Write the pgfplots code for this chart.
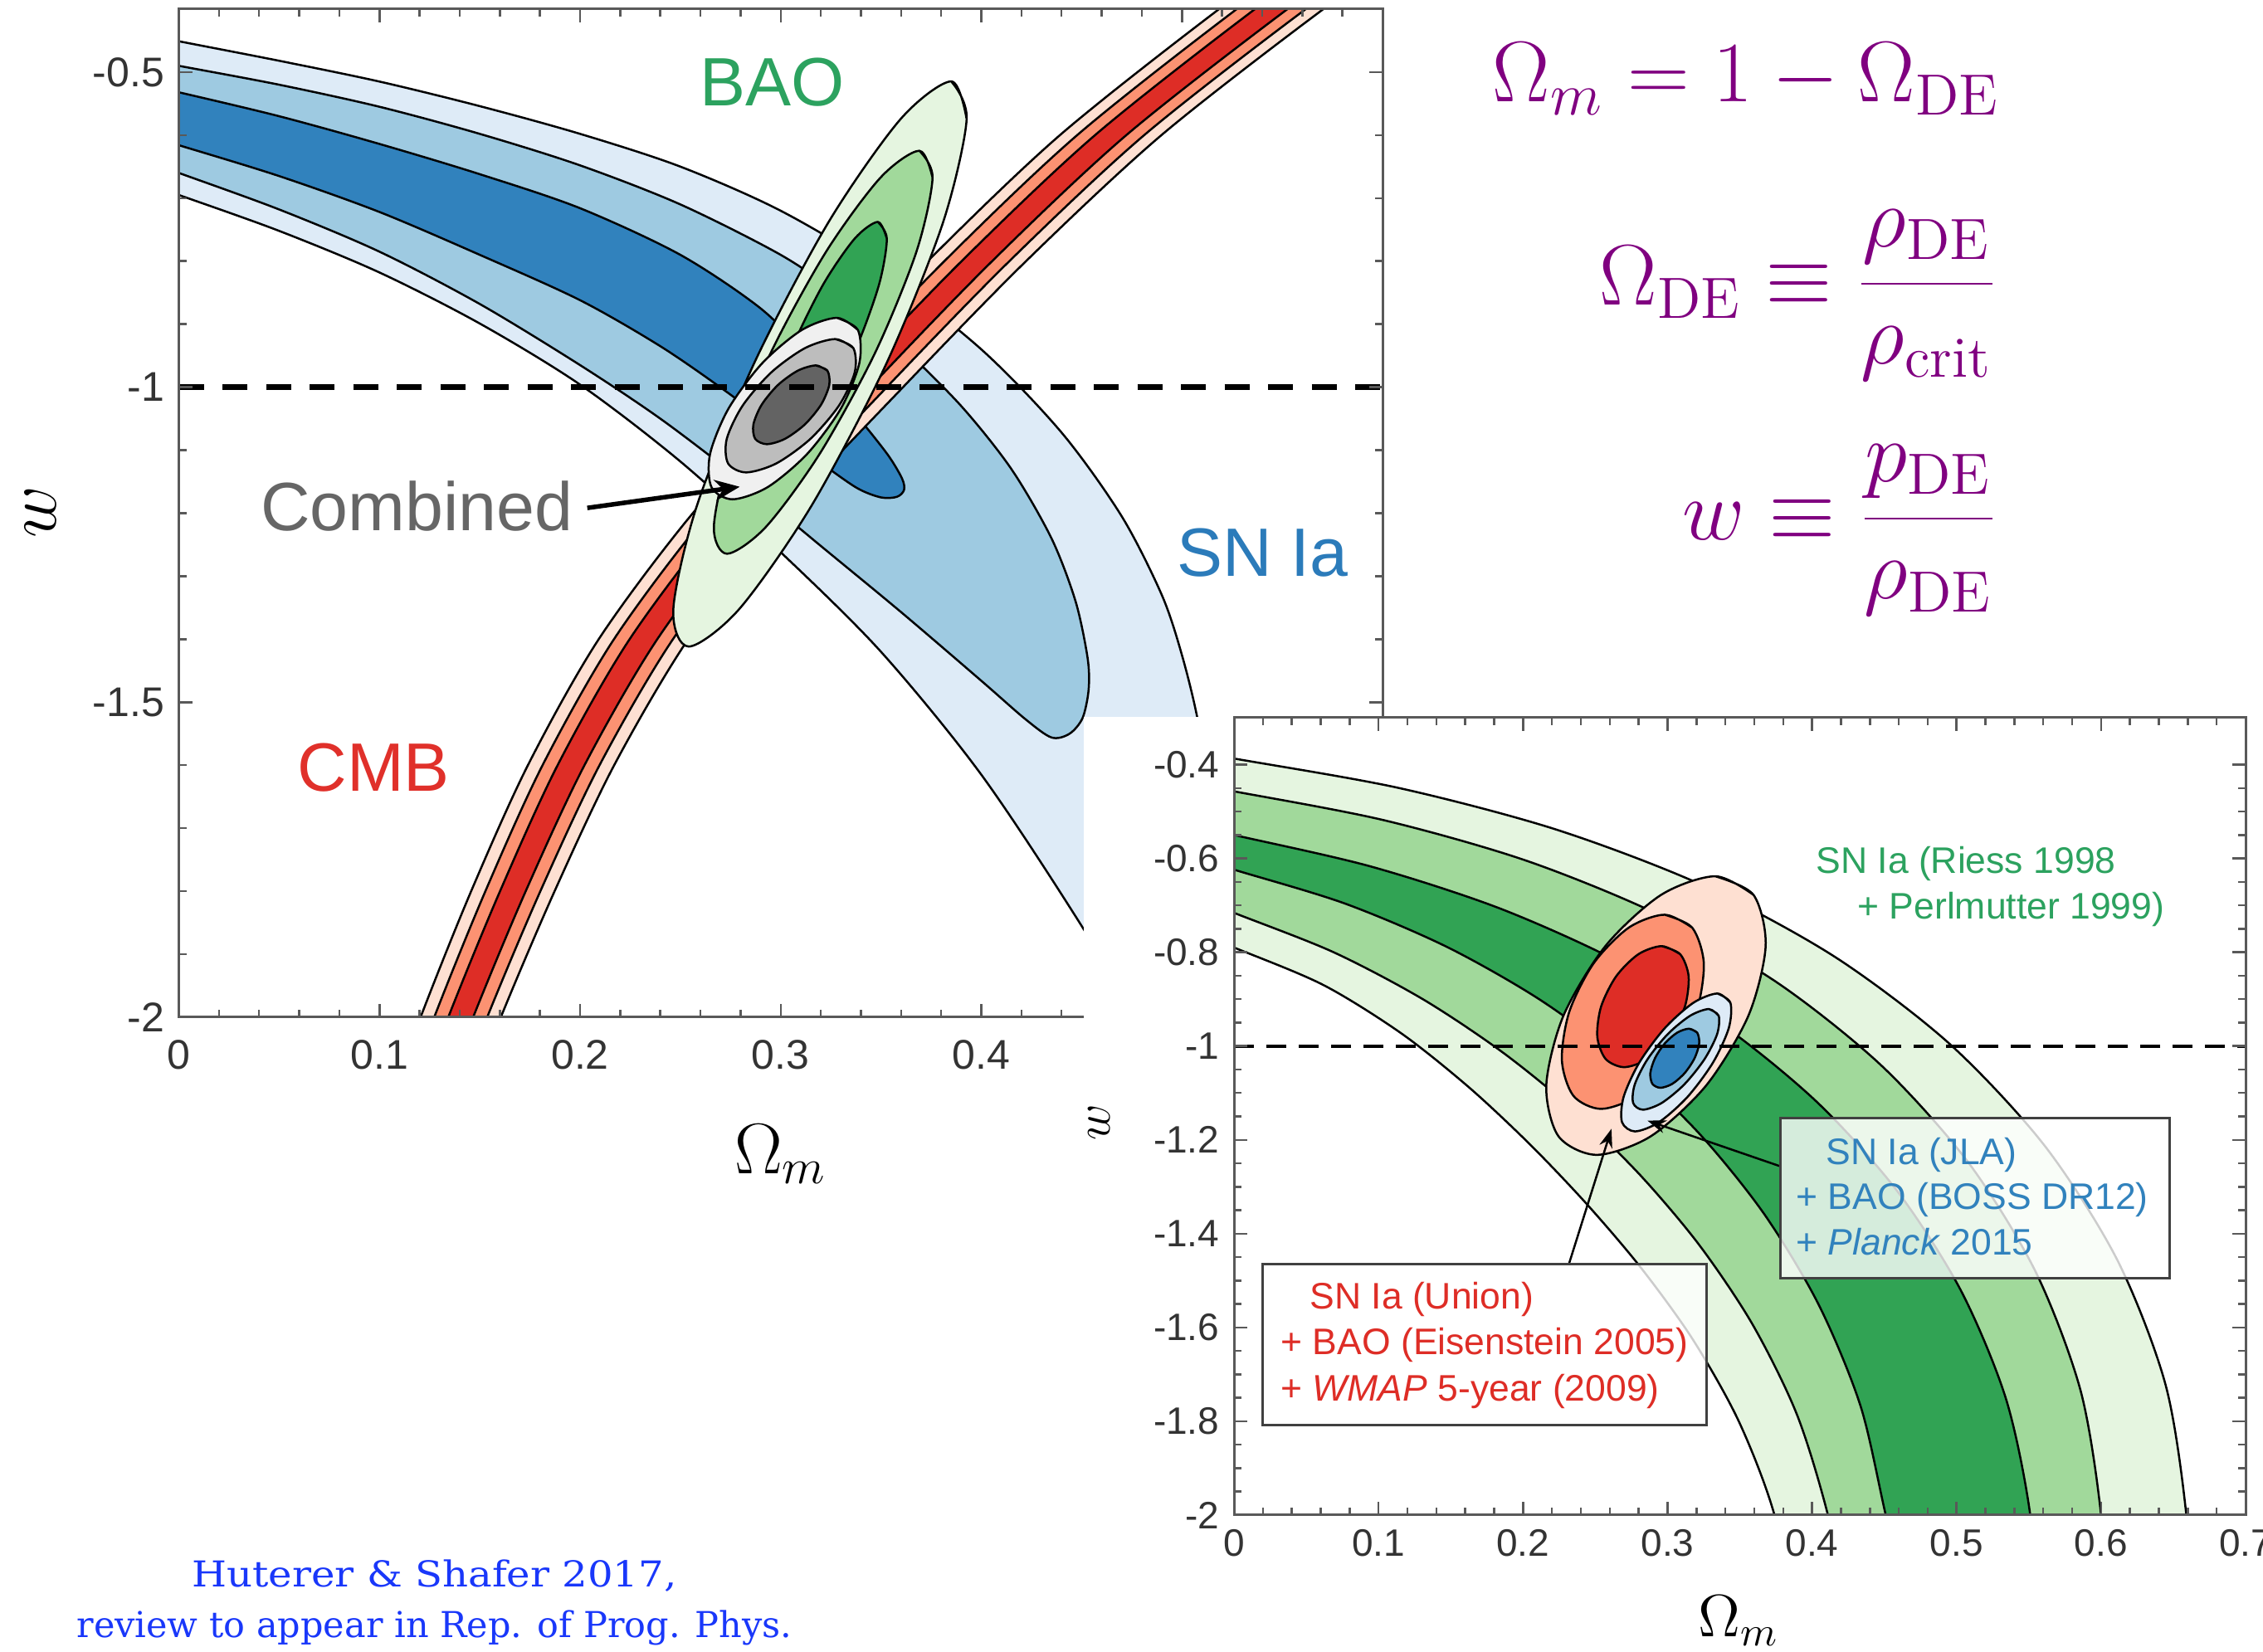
\documentclass[border=0pt]{standalone}
\usepackage{pgfplots}
\pgfplotsset{compat=1.18}
\usepackage{fontspec}
\newfontfamily\plotfont{Liberation Sans}
\newfontfamily\citefont{DejaVu Serif}
\usetikzlibrary{arrows.meta}
\definecolor{blA}{HTML}{DEEBF7}\definecolor{blB}{HTML}{9ECAE1}\definecolor{blC}{HTML}{3182BD}
\definecolor{rdA}{HTML}{FEE0D2}\definecolor{rdB}{HTML}{FC9272}\definecolor{rdC}{HTML}{DE2D26}
\definecolor{grA}{HTML}{E5F5E0}\definecolor{grB}{HTML}{A1D99B}\definecolor{grC}{HTML}{31A354}
\definecolor{gyA}{HTML}{F0F0F0}\definecolor{gyB}{HTML}{BDBDBD}\definecolor{gyC}{HTML}{636363}
\definecolor{eqpurple}{HTML}{800080}
\definecolor{citeblue}{RGB}{25,55,250}
\definecolor{lblgreen}{HTML}{2CA25F}
\definecolor{lblblue}{HTML}{2B7BBA}
\definecolor{lblred}{HTML}{E0302A}
\pgfplotsset{
  cont/.style={draw=black, line width=0.5pt, smooth},
  base/.style={scale only axis, axis on top, clip=true, tick align=inside,
    axis line style={draw=black!65, line width=0.6pt},
    tick style={draw=black!65, line width=0.5pt},
    major tick length=3.2pt, minor tick length=1.8pt,
    tick label style={text=black!80}},
}
\begin{document}
\begin{tikzpicture}
\path[use as bounding box] (0,0) rectangle (545.4pt,398.2pt);
% ================= LEFT AXIS =================
\begin{axis}[base, at={(43.1pt,153pt)}, anchor=south west,
  width=290.1pt, height=243pt,
  xmin=0, xmax=0.6, ymin=-2, ymax=-0.4,
  xtick={0,0.1,0.2,0.3,0.4,0.5,0.6}, xticklabels={0,0.1,0.2,0.3,0.4,{},{}},
  ytick={-2,-1.5,-1,-0.5}, yticklabels={-2,-1.5,-1,-0.5},
  minor x tick num=4, minor y tick num=4,
  tick label style={font=\plotfont\fontsize{10}{12}\selectfont},
  xticklabel style={yshift=-2pt}]
% SN Ia (blue)
\addplot[cont, fill=blA] coordinates {(-0.02,-0.438) (0,-0.451) (0.05,-0.482) (0.1,-0.515) (0.15,-0.554) (0.2,-0.598) (0.25,-0.650) (0.3,-0.72) (0.35,-0.815) (0.4,-0.94) (0.44,-1.072) (0.47,-1.205) (0.49,-1.33) (0.5,-1.425) (0.508,-1.53) (0.514,-1.66) (0.518,-1.8) (0.521,-2.0) (0.522,-2.15) (0.51,-2.17) (0.5,-2.12) (0.45,-1.855) (0.4,-1.615) (0.35,-1.42) (0.3,-1.262) (0.25,-1.118) (0.2,-0.996) (0.15,-0.899) (0.1,-0.818) (0.05,-0.752) (0,-0.695) (-0.02,-0.673)};
\addplot[cont, fill=blB] coordinates {(-0.02,-0.478) (0,-0.49) (0.05,-0.52) (0.1,-0.555) (0.15,-0.598) (0.2,-0.648) (0.25,-0.71) (0.3,-0.79) (0.33,-0.855) (0.36,-0.935) (0.39,-1.03) (0.415,-1.13) (0.435,-1.24) (0.447,-1.34) (0.453,-1.43) (0.4535,-1.48) (0.4505,-1.525) (0.444,-1.55) (0.435,-1.556) (0.422,-1.527) (0.4,-1.466) (0.36,-1.357) (0.32,-1.252) (0.28,-1.147) (0.24,-1.05) (0.2,-0.965) (0.15,-0.868) (0.1,-0.785) (0.05,-0.718) (0,-0.66) (-0.02,-0.637)};
\addplot[cont, fill=blC] coordinates {(-0.02,-0.518) (0,-0.532) (0.05,-0.57) (0.1,-0.614) (0.15,-0.662) (0.2,-0.716) (0.25,-0.79) (0.29,-0.875) (0.315,-0.955) (0.33,-1.015) (0.343,-1.065) (0.354,-1.11) (0.3605,-1.145) (0.3615,-1.163) (0.358,-1.174) (0.35,-1.175) (0.338,-1.16) (0.32,-1.12) (0.3,-1.072) (0.272,-1.005) (0.24,-0.935) (0.2,-0.862) (0.15,-0.79) (0.1,-0.722) (0.05,-0.665) (0,-0.616) (-0.02,-0.597)};
% CMB (red)
\addplot[cont, fill=rdA] coordinates {(0.0977,-2.2) (0.1205,-2.0) (0.1457,-1.8) (0.174,-1.6) (0.2093,-1.4) (0.2562,-1.2) (0.3134,-1.0) (0.3733,-0.8) (0.4392,-0.6) (0.5185,-0.4) (0.5636,-0.3) (0.6164,-0.3) (0.5705,-0.4) (0.4898,-0.6) (0.4223,-0.8) (0.361,-1.0) (0.3022,-1.2) (0.2539,-1.4) (0.217,-1.6) (0.1873,-1.8) (0.1605,-2.0) (0.1363,-2.2)};
\addplot[cont, fill=rdB] coordinates {(0.1043,-2.2) (0.1273,-2.0) (0.1528,-1.8) (0.1813,-1.6) (0.2169,-1.4) (0.264,-1.2) (0.3215,-1.0) (0.3816,-0.8) (0.4478,-0.6) (0.5273,-0.4) (0.5726,-0.3) (0.6074,-0.3) (0.5617,-0.4) (0.4812,-0.6) (0.414,-0.8) (0.3529,-1.0) (0.2944,-1.2) (0.2463,-1.4) (0.2097,-1.6) (0.1802,-1.8) (0.1537,-2.0) (0.1297,-2.2)};
\addplot[cont, fill=rdC] coordinates {(0.111,-2.2) (0.1343,-2.0) (0.1601,-1.8) (0.1888,-1.6) (0.2247,-1.4) (0.2721,-1.2) (0.3298,-1.0) (0.3902,-0.8) (0.4567,-0.6) (0.5364,-0.4) (0.5818,-0.3) (0.5982,-0.3) (0.5526,-0.4) (0.4723,-0.6) (0.4054,-0.8) (0.3446,-1.0) (0.2863,-1.2) (0.2385,-1.4) (0.2022,-1.6) (0.1729,-1.8) (0.1467,-2.0) (0.123,-2.2)};
% BAO (green)
\addplot[cont, fill=grA] coordinates {(0.385,-0.5147) (0.3927,-0.5748) (0.3809,-0.7389) (0.3526,-0.9632) (0.3155,-1.1875) (0.2795,-1.3516) (0.2542,-1.4117) (0.2465,-1.3516) (0.2583,-1.1875) (0.2866,-0.9632) (0.3237,-0.7389) (0.3597,-0.5748) (0.385,-0.5147) (0.3927,-0.5748)};
\addplot[cont, fill=grB] coordinates {(0.3691,-0.6248) (0.3757,-0.6676) (0.3677,-0.7847) (0.3472,-0.9446) (0.3197,-1.1045) (0.2927,-1.2216) (0.2733,-1.2644) (0.2667,-1.2216) (0.2747,-1.1045) (0.2952,-0.9446) (0.3227,-0.7847) (0.3497,-0.6676) (0.3691,-0.6248) (0.3757,-0.6676)};
\addplot[cont, fill=grC] coordinates {(0.3484,-0.7378) (0.3529,-0.7642) (0.3491,-0.8364) (0.338,-0.935) (0.3227,-1.0336) (0.3071,-1.1058) (0.2956,-1.1322) (0.2911,-1.1058) (0.2949,-1.0336) (0.306,-0.935) (0.3213,-0.8364) (0.3369,-0.7642) (0.3484,-0.7378) (0.3529,-0.7642)};
% Combined (grey)
\addplot[cont, fill=gyA] coordinates {(0.328,-0.89) (0.3385,-0.9093) (0.3392,-0.962) (0.33,-1.034) (0.3132,-1.106) (0.2935,-1.1587) (0.276,-1.178) (0.2655,-1.1587) (0.2648,-1.106) (0.274,-1.034) (0.2908,-0.962) (0.3105,-0.9093) (0.328,-0.89) (0.3385,-0.9093)};
\addplot[cont, fill=gyB] coordinates {(0.3272,-0.9237) (0.3362,-0.9379) (0.3369,-0.9766) (0.329,-1.0295) (0.3147,-1.0824) (0.2978,-1.1211) (0.2828,-1.1353) (0.2738,-1.1211) (0.2731,-1.0824) (0.281,-1.0295) (0.2953,-0.9766) (0.3122,-0.9379) (0.3272,-0.9237) (0.3362,-0.9379)};
\addplot[cont, fill=gyC] coordinates {(0.3175,-0.9655) (0.3233,-0.9739) (0.3242,-0.9967) (0.3201,-1.028) (0.312,-1.0593) (0.3021,-1.0821) (0.2931,-1.0905) (0.2873,-1.0821) (0.2864,-1.0593) (0.2905,-1.028) (0.2986,-0.9967) (0.3085,-0.9739) (0.3175,-0.9655) (0.3233,-0.9739)};
% w = -1
\addplot[black, line width=1.3pt, dash pattern=on 6pt off 4.5pt] coordinates {(0,-1) (0.6,-1)};
% labels
\draw[black, line width=1.1pt, -{Stealth[length=6pt,width=5pt]}] (axis cs:0.2036,-1.1917) -- (axis cs:0.2796,-1.1581);
\node[text=lblgreen, font=\plotfont\fontsize{16.5}{19}\selectfont] at (axis cs:0.2957,-0.516) {BAO};
\node[text=lblblue, font=\plotfont\fontsize{16.5}{19}\selectfont] at (axis cs:0.5403,-1.2625) {SN Ia};
\node[text=lblred, font=\plotfont\fontsize{16.5}{19}\selectfont] at (axis cs:0.0971,-1.6038) {CMB};
\node[text=black!60, font=\plotfont\fontsize{16.5}{19}\selectfont] at (axis cs:0.1186,-1.189) {Combined};
\end{axis}
\node[font=\fontsize{18}{20}\selectfont] at (188.2pt,120pt) {$\Omega_m$};
\node[font=\fontsize{17}{20}\selectfont, rotate=90] at (9.7pt,274.7pt) {$w$};
% ================= WHITE PANEL =================
\fill[white] (261.2pt,0pt) rectangle (545.4pt,225.4pt);
% ================= RIGHT AXIS =================
\begin{axis}[base, at={(297.4pt,33pt)}, anchor=south west,
  width=243.8pt, height=192.2pt,
  xmin=0, xmax=0.7, ymin=-2, ymax=-0.3,
  xtick={0,0.1,0.2,0.3,0.4,0.5,0.6,0.7}, xticklabels={0,0.1,0.2,0.3,0.4,0.5,0.6,0.7},
  ytick={-2,-1.8,-1.6,-1.4,-1.2,-1,-0.8,-0.6,-0.4}, yticklabels={-2,-1.8,-1.6,-1.4,-1.2,-1,-0.8,-0.6,-0.4},
  minor x tick num=4, minor y tick num=3,
  tick label style={font=\plotfont\fontsize{9.2}{11}\selectfont}]
\addplot[cont, fill=grA] coordinates {(-0.05,-0.36) (0,-0.387) (0.1136,-0.4495) (0.2225,-0.538) (0.3238,-0.6566) (0.4152,-0.8087) (0.4948,-0.9943) (0.5608,-1.2119) (0.6113,-1.4566) (0.6446,-1.7219) (0.659,-2.0) (0.663,-2.25) (0.39,-2.25) (0.374,-2.0) (0.3494,-1.8007) (0.3176,-1.6261) (0.2818,-1.4735) (0.2442,-1.3372) (0.2049,-1.21) (0.1627,-1.0883) (0.1156,-0.9726) (0.0616,-0.8695) (0,-0.79) (-0.05,-0.73)};
\addplot[cont, fill=grB] coordinates {(-0.05,-0.43) (0,-0.457) (0.1033,-0.5182) (0.2019,-0.6044) (0.2935,-0.7194) (0.3762,-0.8654) (0.4483,-1.0425) (0.5084,-1.2493) (0.5548,-1.4818) (0.5858,-1.7344) (0.6,-2.0) (0.604,-2.25) (0.428,-2.25) (0.411,-2.0) (0.3895,-1.7854) (0.3589,-1.5939) (0.322,-1.4244) (0.2807,-1.2739) (0.2356,-1.138) (0.1859,-1.0135) (0.1306,-0.9) (0.0687,-0.7997) (0,-0.716) (-0.05,-0.655)};
\addplot[cont, fill=grC] coordinates {(-0.05,-0.515) (0,-0.55) (0.0942,-0.6168) (0.183,-0.7055) (0.2648,-0.8182) (0.3385,-0.9561) (0.4034,-1.1194) (0.4586,-1.3078) (0.5028,-1.52) (0.5342,-1.7522) (0.551,-2.0) (0.556,-2.25) (0.47,-2.25) (0.451,-2.0) (0.4335,-1.7669) (0.4047,-1.5521) (0.3669,-1.3582) (0.3217,-1.1858) (0.2699,-1.0338) (0.2118,-0.9014) (0.1473,-0.7886) (0.0764,-0.6958) (0,-0.624) (-0.05,-0.577)};
% Union (red)
\addplot[cont, fill=rdA] coordinates {(0.333,-0.638) (0.3595,-0.6778) (0.3679,-0.7865) (0.356,-0.935) (0.3269,-1.0835) (0.2885,-1.1922) (0.251,-1.232) (0.2245,-1.1922) (0.2161,-1.0835) (0.228,-0.935) (0.2571,-0.7865) (0.2955,-0.6778) (0.333,-0.638) (0.3595,-0.6778)};
\addplot[cont, fill=rdB] coordinates {(0.298,-0.72) (0.3171,-0.7477) (0.3251,-0.8235) (0.32,-0.927) (0.3031,-1.0305) (0.2789,-1.1063) (0.254,-1.134) (0.2349,-1.1063) (0.2269,-1.0305) (0.232,-0.927) (0.2489,-0.8235) (0.2731,-0.7477) (0.298,-0.72) (0.3171,-0.7477)};
\addplot[cont, fill=rdC] coordinates {(0.296,-0.787) (0.3088,-0.8043) (0.3146,-0.8515) (0.312,-0.916) (0.3016,-0.9805) (0.2862,-1.0277) (0.27,-1.045) (0.2572,-1.0277) (0.2514,-0.9805) (0.254,-0.916) (0.2644,-0.8515) (0.2798,-0.8043) (0.296,-0.787) (0.3088,-0.8043)};
% JLA (blue)
\addplot[cont, fill=blA] coordinates {(0.3345,-0.888) (0.3435,-0.9077) (0.3424,-0.9615) (0.3315,-1.035) (0.3138,-1.1085) (0.2941,-1.1623) (0.2775,-1.182) (0.2685,-1.1623) (0.2696,-1.1085) (0.2805,-1.035) (0.2982,-0.9615) (0.3179,-0.9077) (0.3345,-0.888) (0.3435,-0.9077)};
\addplot[cont, fill=blB] coordinates {(0.3286,-0.9211) (0.3354,-0.9355) (0.3343,-0.9747) (0.3255,-1.0284) (0.3115,-1.0821) (0.296,-1.1213) (0.283,-1.1357) (0.2762,-1.1213) (0.2773,-1.0821) (0.2861,-1.0284) (0.3001,-0.9747) (0.3156,-0.9355) (0.3286,-0.9211) (0.3354,-0.9355)};
\addplot[cont, fill=blC] coordinates {(0.3149,-0.963) (0.3205,-0.9714) (0.3219,-0.9945) (0.3187,-1.026) (0.3119,-1.0575) (0.3033,-1.0806) (0.2951,-1.089) (0.2895,-1.0806) (0.2881,-1.0575) (0.2913,-1.026) (0.2981,-0.9945) (0.3067,-0.9714) (0.3149,-0.963) (0.3205,-0.9714)};
\addplot[black, line width=0.8pt, dash pattern=on 4.8pt off 3pt] coordinates {(0,-1) (0.7,-1)};
\draw[black, line width=0.5pt, -{Stealth[length=4.5pt,width=3.2pt]}] (axis cs:0.2318,-1.4644) -- (axis cs:0.2612,-1.1765);
\draw[black, line width=0.5pt, -{Stealth[length=4.5pt,width=3.2pt]}] (axis cs:0.3786,-1.257) -- (axis cs:0.2861,-1.159);
\end{axis}
\node[font=\fontsize{14}{16}\selectfont] at (419.1pt,7.5pt) {$\Omega_m$};
\node[font=\fontsize{13}{15}\selectfont, rotate=90] at (265pt,127.6pt) {$w$};
% right plot labels
\begin{scope}[every node/.style={anchor=base west, inner sep=0pt, font=\plotfont\fontsize{8.9}{10}\selectfont}]
\node[text=lblgreen] at (437.5pt,187.7pt) {SN Ia (Riess 1998};
\node[text=lblgreen] at (447.5pt,176.6pt) {+ Perlmutter 1999)};
\end{scope}
\draw[black!75, line width=0.6pt, fill=white, fill opacity=0.8] (304.3pt,54.6pt) rectangle (411.2pt,93.5pt);
\draw[black!75, line width=0.6pt, fill=white, fill opacity=0.8] (429.1pt,90.1pt) rectangle (522.9pt,128.6pt);
\begin{scope}[every node/.style={anchor=base west, inner sep=0pt, font=\plotfont\fontsize{8.9}{10}\selectfont}]
\node[text=rdC] at (315.5pt,82.7pt) {SN Ia (Union)};
\node[text=rdC] at (308.5pt,71.6pt) {+ BAO (Eisenstein 2005)};
\node[text=rdC] at (308.5pt,60.4pt) {+ \textit{WMAP} 5-year (2009)};
\node[text=blC] at (439.9pt,117.5pt) {SN Ia (JLA)};
\node[text=blC] at (432.7pt,106.6pt) {+ BAO (BOSS DR12)};
\node[text=blC] at (432.7pt,95.6pt) {+ \textit{Planck} 2015};
\end{scope}
% equations
\begin{scope}[every node/.style={anchor=base east, inner sep=0pt, text=eqpurple, font=\fontsize{20}{24}\selectfont}]
\node at (482.1pt,373.7pt) {$\Omega_m = 1 - \Omega_{\mathrm{DE}}$};
\node at (481.5pt,324.7pt) {$\Omega_{\mathrm{DE}} \equiv \displaystyle\frac{\rho_{\mathrm{DE}}}{\rho_{\mathrm{crit}}}$};
\node at (481.5pt,268.1pt) {$w \equiv \displaystyle\frac{p_{\mathrm{DE}}}{\rho_{\mathrm{DE}}}$};
\end{scope}
% citation
\node[text=citeblue, font=\citefont\fontsize{8.6}{10}\selectfont, anchor=base] at (104.7pt,15.6pt) {\scalebox{1.12}[1]{Huterer \& Shafer 2017,}};
\node[text=citeblue, font=\citefont\fontsize{8.6}{10}\selectfont, anchor=base] at (104.7pt,3.4pt) {review to appear in Rep. of Prog. Phys.};
\end{tikzpicture}
\end{document}
